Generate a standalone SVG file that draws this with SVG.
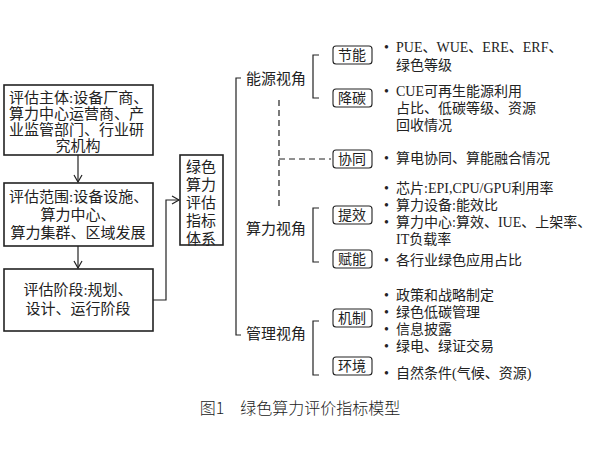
<svg xmlns="http://www.w3.org/2000/svg" width="600" height="450" viewBox="0 0 600 450">
<defs>
<marker id="ar" markerWidth="10" markerHeight="10" refX="8" refY="5" orient="auto" markerUnits="userSpaceOnUse"><path d="M1,1 L8,5 L1,9" fill="none" stroke="#222" stroke-width="1.2"/></marker>
</defs>
<style>
text{font-family:"Liberation Serif","Noto Sans CJK SC",serif;font-size:14px;fill:#222}
.k{font-size:15px}
.b{fill:#fff;stroke:#222;stroke-width:1.6}
.t{fill:#fff;stroke:#222;stroke-width:1.1}
.l{fill:none;stroke:#222;stroke-width:1.2}
.d{fill:none;stroke:#222;stroke-width:1.2;stroke-dasharray:6,4}
</style>
<rect width="600" height="450" fill="#fff"/>
<g id="n1" class="k"><rect class="b" x="4" y="85" width="149" height="70"/>
<text class="k" x="9" y="103">评估主体:设备厂商、</text><text class="k" x="9" y="119">算力中心运营商、产</text><text class="k" x="9" y="135">业监管部门、行业研</text><text class="k" x="78" y="151" text-anchor="middle">究机构</text></g>
<g id="n2"><rect class="b" x="4" y="183" width="149" height="63"/>
<text class="k" x="9" y="202">评估范围:设备设施、</text><text class="k" x="78" y="220" text-anchor="middle">算力中心、</text><text class="k" x="78" y="238" text-anchor="middle">算力集群、区域发展</text></g>
<g id="n3"><rect class="b" x="4" y="269" width="149" height="62"/>
<text class="k" x="78" y="295" text-anchor="middle">评估阶段:规划、</text><text class="k" x="78" y="314" text-anchor="middle">设计、运行阶段</text></g>
<g id="n4"><rect class="b" x="180" y="155" width="43" height="90"/>
<text class="k" x="201" y="172" text-anchor="middle">绿色</text><text class="k" x="201" y="190" text-anchor="middle">算力</text><text class="k" x="201" y="208" text-anchor="middle">评估</text><text class="k" x="201" y="226" text-anchor="middle">指标</text><text class="k" x="201" y="244" text-anchor="middle">体系</text></g>
<g id="connectors">
<line class="l" x1="78" y1="155" x2="78" y2="182" marker-end="url(#ar)"/>
<line class="l" x1="78" y1="246" x2="78" y2="268" marker-end="url(#ar)"/>
<polyline class="l" points="153,300 166,300 166,200 179,200" marker-end="url(#ar)"/>
<polyline class="l" points="241,78 236,78 236,335 241,335"/>
<polyline class="l" points="319,55 313,55 313,98 319,98"/>
<polyline class="l" points="319,208 313,208 313,262 319,262"/>
<polyline class="l" points="319,321 313,321 313,375 319,375"/>
<line class="d" x1="279" y1="100" x2="279" y2="206"/>
<line class="d" x1="279" y1="159" x2="331" y2="159"/>
</g>
<g id="views"><text class="k" x="246" y="84">能源视角</text><text class="k" x="246" y="234">算力视角</text><text class="k" x="246" y="339">管理视角</text></g>
<g id="tags">
<rect class="t" x="333" y="46" width="39" height="18" rx="3"/><text x="352" y="60" text-anchor="middle">节能</text>
<rect class="t" x="333" y="89" width="39" height="18" rx="3"/><text x="352" y="103" text-anchor="middle">降碳</text>
<rect class="t" x="333" y="150" width="39" height="18" rx="3"/><text x="352" y="164" text-anchor="middle">协同</text>
<rect class="t" x="333" y="206" width="39" height="18" rx="3"/><text x="352" y="220" text-anchor="middle">提效</text>
<rect class="t" x="333" y="250" width="39" height="18" rx="3"/><text x="352" y="264" text-anchor="middle">赋能</text>
<rect class="t" x="333" y="309" width="39" height="18" rx="3"/><text x="352" y="323" text-anchor="middle">机制</text>
<rect class="t" x="333" y="357" width="39" height="18" rx="3"/><text x="352" y="371" text-anchor="middle">环境</text>
</g>
<g id="items">
<text x="384" y="52">•</text><text x="396" y="52">PUE、WUE、ERE、ERF、</text><text x="396" y="70">绿色等级</text>
<text x="384" y="96">•</text><text x="396" y="96">CUE可再生能源利用</text><text x="396" y="113">占比、低碳等级、资源</text><text x="396" y="130">回收情况</text>
<text x="384" y="163">•</text><text x="396" y="163">算电协同、算能融合情况</text>
<text x="384" y="193">•</text><text x="396" y="193">芯片:EPI,CPU/GPU利用率</text>
<text x="384" y="210">•</text><text x="396" y="210">算力设备:能效比</text>
<text x="384" y="227">•</text><text x="396" y="227">算力中心:算效、IUE、上架率、</text><text x="396" y="244">IT负载率</text>
<text x="384" y="265">•</text><text x="396" y="265">各行业绿色应用占比</text>
<text x="384" y="300">•</text><text x="396" y="300">政策和战略制定</text>
<text x="384" y="317">•</text><text x="396" y="317">绿色低碳管理</text>
<text x="384" y="334">•</text><text x="396" y="334">信息披露</text>
<text x="384" y="351">•</text><text x="396" y="351">绿电、绿证交易</text>
<text x="384" y="378">•</text><text x="396" y="378">自然条件(气候、资源)</text>
</g>
<text x="300" y="414" text-anchor="middle" style="font-size:16px;font-family:'Noto Sans CJK SC',sans-serif;font-weight:300">图1　绿色算力评价指标模型</text>
</svg>
